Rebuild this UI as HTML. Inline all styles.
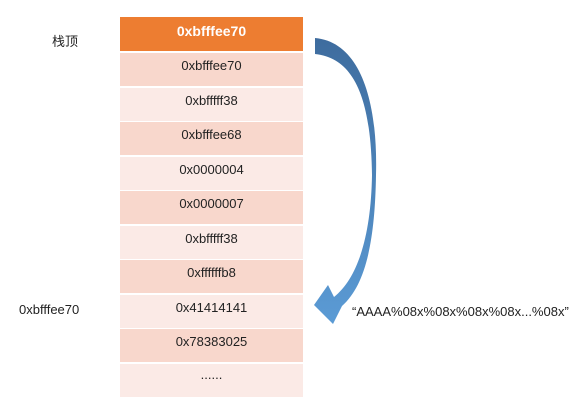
<!DOCTYPE html>
<html><head><style>
body{margin:0;width:575px;height:413px;background:#fff;position:relative;font-family:"Liberation Sans","Noto Sans CJK SC",sans-serif;overflow:hidden}
.r{position:absolute;left:120px;width:183px;height:34px;text-align:center;font-size:13px;color:#222;line-height:26px;box-sizing:border-box;border-top:1px solid #fff}
.a{background:#f8d7cc}.b{background:#fbeae6}
.l{position:absolute;font-size:13px;color:#222}
</style></head><body>
<div class="r" style="top:17px;height:34px;background:#ed7d31;color:#fff;font-weight:bold;font-size:14px;line-height:28px;border:none">0xbfffee70</div>
<div class="r a" style="top:51px;height:35px;border-top:2px solid #fff">0xbfffee70</div>
<div class="r b" style="top:86.5px">0xbfffff38</div>
<div class="r a" style="top:121px">0xbfffee68</div>
<div class="r b" style="top:155.5px">0x0000004</div>
<div class="r a" style="top:190px">0x0000007</div>
<div class="r b" style="top:224.5px">0xbfffff38</div>
<div class="r a" style="top:259px">0xffffffb8</div>
<div class="r b" style="top:293.5px">0x41414141</div>
<div class="r a" style="top:328px">0x78383025</div>
<div class="r b" style="top:362.5px;height:34.5px;line-height:22px">......</div>
<div class="l" style="left:52px;top:31px">栈顶</div>
<div class="l" style="left:19px;top:302px">0xbfffee70</div>
<div class="l" style="left:352px;top:304px">“AAAA%08x%08x%08x%08x...%08x”</div>
<svg style="position:absolute;left:0;top:0" width="575" height="413">
<defs><linearGradient id="g" x1="0" y1="0" x2="0" y2="1"><stop offset="0" stop-color="#3e6c9e"/><stop offset="1" stop-color="#5b9bd5"/></linearGradient></defs>
<path d="M315,38 C360,42 378,100 376,175 C375,240 366,285 342,306 L333,324 L314,305 L328,285 L334,297 C358,278 371,235 372,175 C371,100 355,58 315,54 Z" fill="url(#g)"/>
</svg>
</body></html>
